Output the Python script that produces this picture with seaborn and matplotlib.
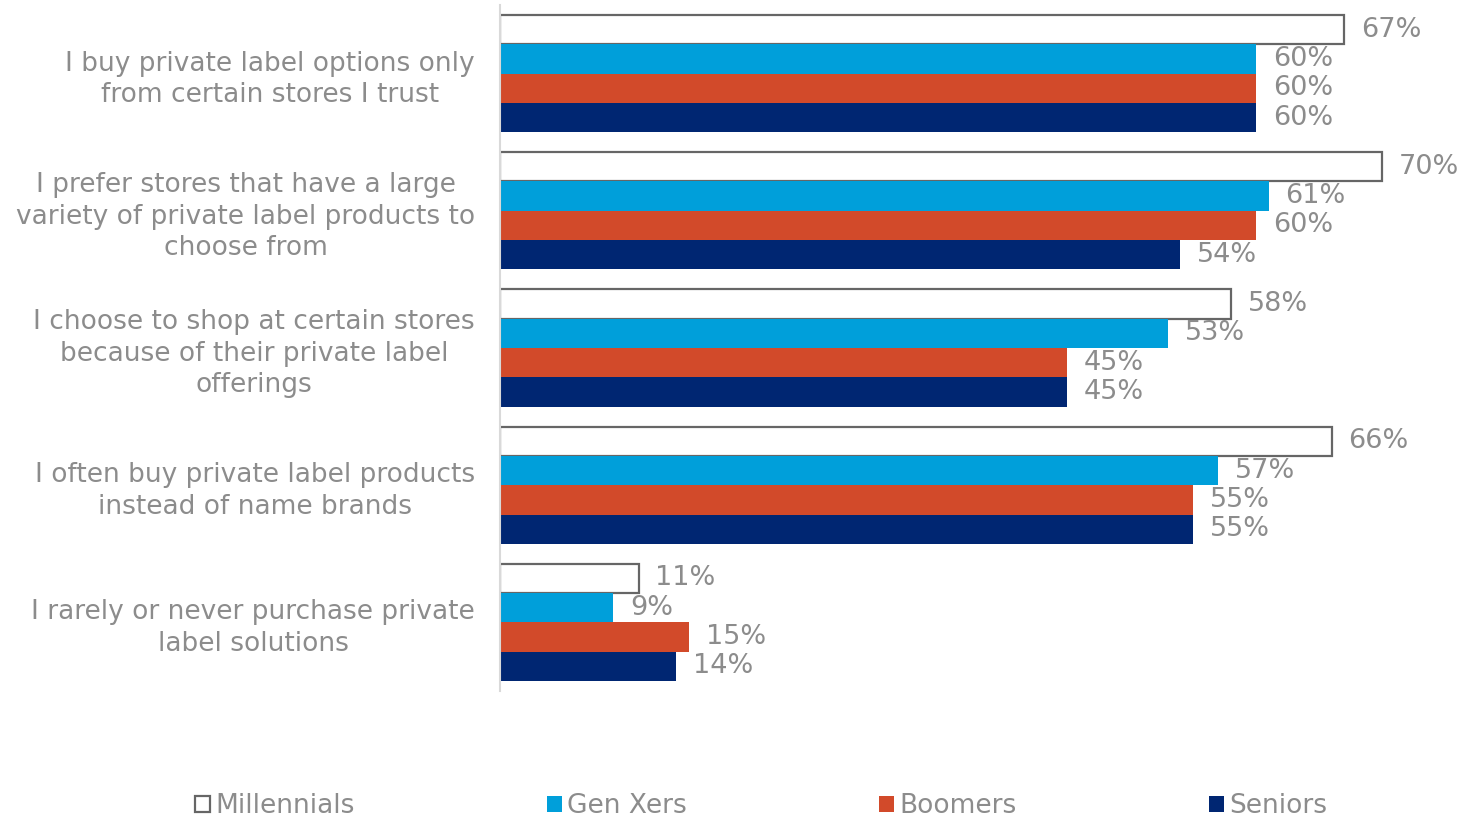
import matplotlib
matplotlib.use("Agg")
import matplotlib.pyplot as plt
import seaborn as sns
import pandas as pd
from matplotlib.patches import Patch

statements = [
    "I buy private label options only\nfrom certain stores I trust",
    "I prefer stores that have a large\nvariety of private label products to\nchoose from",
    "I choose to shop at certain stores\nbecause of their private label\nofferings",
    "I often buy private label products\ninstead of name brands",
    "I rarely or never purchase private\nlabel solutions",
]
groups = ["Millennials", "Gen Xers", "Boomers", "Seniors"]
millennials = [67, 70, 58, 66, 11]
gen_xers = [60, 61, 53, 57, 9]
boomers = [60, 60, 45, 55, 15]
seniors = [60, 54, 45, 55, 14]

colors = {"Millennials": "#FFFFFF", "Gen Xers": "#009FDA",
          "Boomers": "#D24A2A", "Seniors": "#002672"}
text_gray = "#8C8C8C"

rows = []
for g, vals in zip(groups, [millennials, gen_xers, boomers, seniors]):
    for s, v in zip(statements, vals):
        rows.append({"statement": s, "group": g, "value": v})
df = pd.DataFrame(rows)

sns.set_theme(style="white")
plt.rcParams["font.family"] = ["DejaVu Sans"]

fig = plt.figure(figsize=(14.61, 8.19), dpi=100)
ax = fig.add_axes([500 / 1461, 1 - 691 / 819, 945 / 1461, 686 / 819])

sns.barplot(data=df, y="statement", x="value", hue="group", orient="h",
            order=statements, hue_order=groups, palette=colors,
            width=0.855, dodge=True, ax=ax, legend=False, saturation=1)

# Outline the Millennials bars
for bar in ax.containers[0]:
    bar.set_edgecolor("#666666")
    bar.set_linewidth(1.6)
for cont in ax.containers[1:]:
    for bar in cont:
        bar.set_linewidth(0)

for cont in ax.containers:
    ax.bar_label(cont, fmt="%d%%", padding=12, color=text_gray, fontsize=19.5)

ax.set_xlim(0, 75)
ax.set_ylim(4.5, -0.5)
ax.set_xlabel("")
ax.set_ylabel("")
ax.set_xticks([])
ax.tick_params(axis="y", length=0, pad=18, labelsize=19, labelcolor=text_gray)
for lbl in ax.get_yticklabels():
    lbl.set_multialignment("center")
    lbl.set_linespacing(1.27)

for side in ["top", "right", "bottom"]:
    ax.spines[side].set_visible(False)
ax.spines["left"].set_color("#D9D9D9")
ax.spines["left"].set_linewidth(1.5)

handles = [Patch(facecolor=colors[g],
                 edgecolor="#666666" if g == "Millennials" else colors[g],
                 linewidth=1.6 if g == "Millennials" else 0)
           for g in groups]
leg = fig.legend(handles, groups, loc="lower center", bbox_to_anchor=(0.521, -0.029),
                 ncol=4, frameon=False, fontsize=19, handlelength=0.55,
                 handleheight=0.55, handletextpad=0.2, columnspacing=7.3)
for t in leg.get_texts():
    t.set_color(text_gray)

fig.savefig("out.png", dpi=100)
